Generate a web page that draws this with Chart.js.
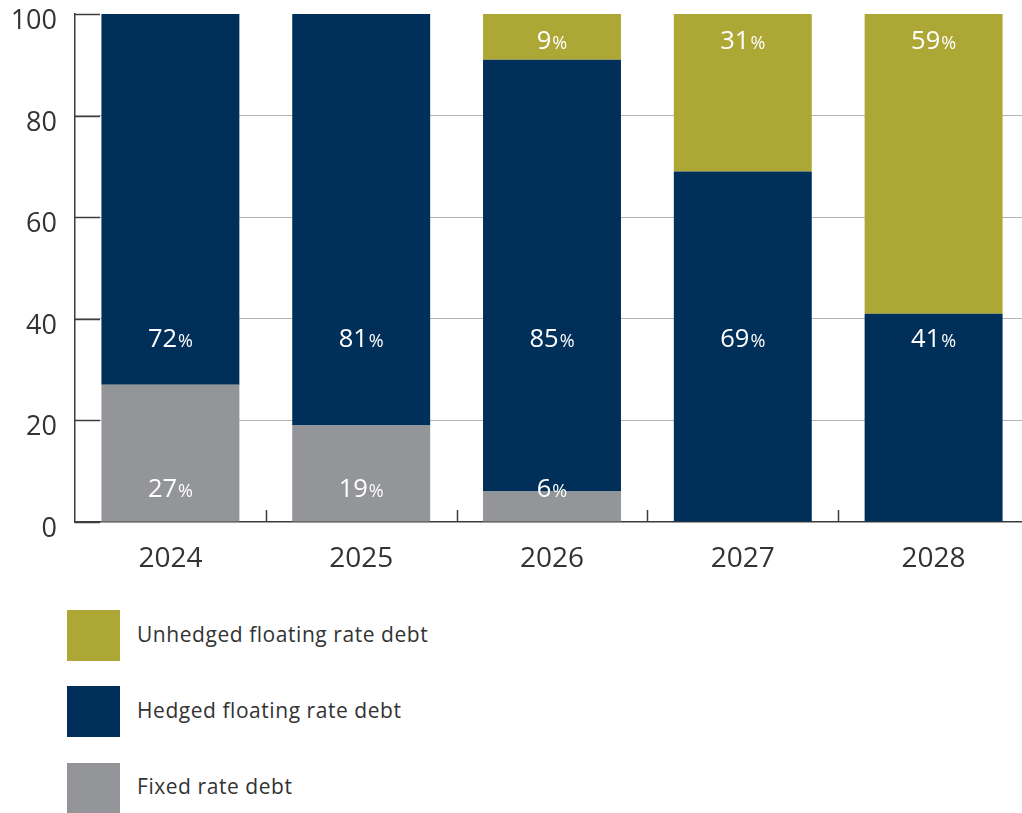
<!DOCTYPE html>
<html>
<head>
<meta charset="utf-8">
<script src="https://cdn.jsdelivr.net/npm/chart.js@4/dist/chart.umd.min.js"></script>
<style>
  html, body { margin: 0; padding: 0; background: #fff; overflow: hidden; }
  #wrap { position: relative; width: 1022px; height: 813px; overflow: hidden; }
  #c { position: absolute; left: 0; top: 0; }
  .lg { position: absolute; left: 67px; width: 53px; height: 51px; }
  .lt { position: absolute; left: 137px; font-family: "Open Sans", sans-serif; font-size: 21px; letter-spacing: 0.55px; color: #333; line-height: 24px; }
</style>
</head>
<body>
<div id="wrap">
  <canvas id="c" width="1030" height="600"></canvas>
  <div class="lg" style="top:610px;background:#ADA736"></div>
  <div class="lt" style="top:622px">Unhedged floating rate debt</div>
  <div class="lg" style="top:686px;background:#003059"></div>
  <div class="lt" style="top:698px">Hedged floating rate debt</div>
  <div class="lg" style="top:763px;background:#939598"></div>
  <div class="lt" style="top:774px">Fixed rate debt</div>
</div>
<script>
const categories = ["2024", "2025", "2026", "2027", "2028"];
const fixedRate = [27, 19, 6, 0, 0];
const hedgedFloating = [73, 81, 85, 69, 41];
const unhedgedFloating = [0, 0, 9, 31, 59];
const fixedLabels = ["27", "19", "6", "", ""];
const hedgedLabels = ["72", "81", "85", "69", "41"];
const unhedgedLabels = ["", "", "9", "31", "59"];
const yTicks = [0, 20, 40, 60, 80, 100];

const AXIS = "#3c3c3c";

const decor = {
  id: "decor",
  afterDatasetsDraw(chart, args, opts) {
    const ctx = chart.ctx;
    const ys = chart.scales.y, xs = chart.scales.x;
    const ca = chart.chartArea;
    ctx.save();
    ctx.strokeStyle = AXIS;
    ctx.lineWidth = 1.5;
    // inward y ticks + labels
    ctx.fillStyle = "#333";
    ctx.font = "27px 'Open Sans'";
    ctx.textAlign = "right";
    ctx.textBaseline = "middle";
    yTicks.forEach(v => {
      const y = Math.round(ys.getPixelForValue(v)) + 0.5;
      ctx.beginPath();
      ctx.moveTo(ca.left, y);
      ctx.lineTo(ca.left + 25, y);
      ctx.stroke();
      ctx.fillText(String(v), ca.left - 18, y + 7);
    });
    // inward x ticks at category boundaries
    const w = (xs.right - xs.left) / categories.length;
    for (let i = 1; i < categories.length; i++) {
      const x = Math.round(xs.left + i * w) + 0.5;
      ctx.beginPath();
      ctx.moveTo(x, ca.bottom);
      ctx.lineTo(x, ca.bottom - 12);
      ctx.stroke();
    }
    // data labels
    const texts = [fixedLabels, hedgedLabels, unhedgedLabels];
    const anchors = opts.anchors;
    ctx.fillStyle = "#ffffff";
    ctx.textBaseline = "alphabetic";
    ctx.textAlign = "left";
    chart.data.datasets.forEach((ds, di) => {
      const meta = chart.getDatasetMeta(di);
      meta.data.forEach((bar, i) => {
        const t = texts[di][i];
        if (!t) return;
        ctx.font = "25.5px 'Open Sans'";
        const w1 = ctx.measureText(t).width;
        ctx.font = "18px 'Open Sans'";
        const w2 = ctx.measureText("%").width;
        const x0 = bar.x - (w1 + w2 + 1) / 2;
        const yb = ys.getPixelForValue(anchors[di]) + 8.5;
        ctx.font = "25.5px 'Open Sans'";
        ctx.fillText(t, x0, yb);
        ctx.font = "18px 'Open Sans'";
        ctx.fillText("%", x0 + w1 + 1, yb);
      });
    });
    ctx.restore();
  }
};

new Chart(document.getElementById("c"), {
  type: "bar",
  data: {
    labels: categories,
    datasets: [
      { label: "Fixed rate debt", data: fixedRate, backgroundColor: "#939598" },
      { label: "Hedged floating rate debt", data: hedgedFloating, backgroundColor: "#003059" },
      { label: "Unhedged floating rate debt", data: unhedgedFloating, backgroundColor: "#ADA736" }
    ]
  },
  options: {
    responsive: false,
    animation: false,
    events: [],
    layout: { padding: { left: 0, right: 1, top: 0, bottom: 0 } },
    datasets: { bar: { barPercentage: 0.723, categoryPercentage: 1, borderWidth: 0 } },
    plugins: {
      legend: { display: false },
      tooltip: { enabled: false },
      decor: { anchors: [6.6, 36.1, 94.8] }
    },
    scales: {
      x: {
        stacked: true,
        grid: { display: false },
        border: { display: true, color: AXIS, width: 1.5 },
        ticks: { color: "#333", font: { family: "Open Sans", size: 28 }, padding: 12 },
        afterFit(s) { s.height = 78; }
      },
      y: {
        stacked: true,
        min: 0, max: 100,
        afterBuildTicks(s) { s.ticks = yTicks.map(v => ({ value: v })); },
        grid: {
          drawTicks: false,
          color: c => (c.tick && (c.tick.value === 0 || c.tick.value === 100)) ? "rgba(0,0,0,0)" : "#b4b4b4",
          lineWidth: 1
        },
        border: { display: true, color: AXIS, width: 1.5 },
        ticks: { display: false },
        afterFit(s) { s.width = 75; s.paddingTop = 14; s.paddingBottom = 0; }
      }
    }
  },
  plugins: [decor]
});
</script>
</body>
</html>
